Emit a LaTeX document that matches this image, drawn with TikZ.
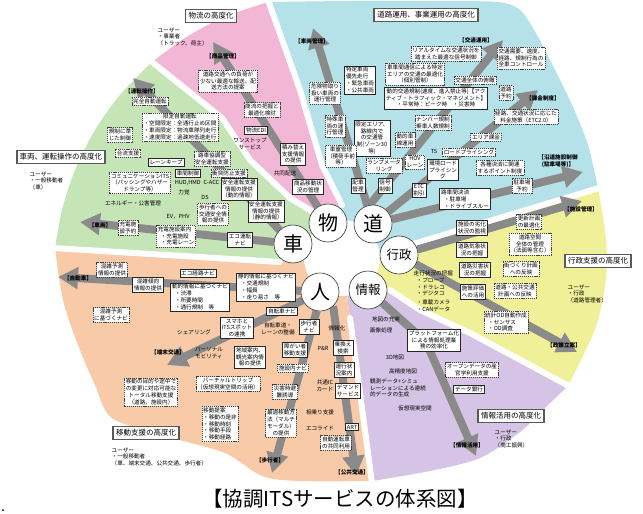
\documentclass[tikz,border=0pt]{standalone}
\usepackage{fontspec}
\newfontfamily\jp{Noto Sans CJK JP}
\usetikzlibrary{arrows.meta}
\pgfdeclarelayer{bg}
\pgfdeclarelayer{bands}
\pgfsetlayers{bg,bands,main}
\definecolor{cgreen}{RGB}{197,229,183}
\definecolor{cpink}{RGB}{243,183,214}
\definecolor{ccyan}{RGB}{181,225,232}
\definecolor{cyellow}{RGB}{240,240,152}
\definecolor{cpurple}{RGB}{214,196,230}
\definecolor{corange}{RGB}{249,202,168}
\definecolor{agray}{RGB}{138,138,138}
\tikzset{
  bx/.style={font=\jp\fontsize{5.6}{6.8}\selectfont, inner sep=1.4pt, align=center},
  sbox/.style={bx, draw=black!85, line width=0.5pt, fill=white},
  dbox/.style={bx, draw=black!75, line width=0.5pt, dash pattern=on 1.2pt off 0.9pt, fill=white},
  txt/.style={bx, inner sep=0.5pt},
  ttl/.style={font=\jp\fontsize{7.5}{9}\selectfont, draw=black!65, line width=1.6pt, fill=white, inner sep=3pt},
  lab/.style={font=\jp\bfseries\fontsize{5.6}{6.8}\selectfont, inner sep=0.5pt, align=center},
  hub/.style={circle, draw=black!80, line width=0.6pt, fill=white, minimum size=38pt, inner sep=0pt, font=\jp\fontsize{20}{20}\selectfont},
  hubs/.style={hub, font=\jp\fontsize{12.5}{13}\selectfont},
  band/.style={draw=agray, line width=8pt, -{Triangle[length=20pt,width=21pt]}},
  gap/.style={draw=white, line width=6pt, line cap=round, line join=round},
}
\begin{document}
\begin{tikzpicture}[x=1pt,y=-1pt]
\useasboundingbox (0,0) rectangle (643,514);
\begin{pgfonlayer}{bg}
\fill[white] (0,0) rectangle (643,514);
% sectors
\fill[cgreen] (342,258) -- (318,215) -- (290,198) -- (250,160) -- (222,118) -- plot[smooth] coordinates {(152,62) (120,95) (95,130) (75,170) (62,210) (55,248)} -- (280,262) -- cycle;
\fill[cpink] (342,258) -- (342,205) -- (322,165) -- (300,90) -- plot[smooth] coordinates {(268,2) (222,18) (185,38) (152,62)} -- (222,118) -- (250,160) -- (290,198) -- (318,215) -- cycle;
\fill[ccyan] (342,258) -- (395,250) -- (420,242) -- plot[smooth] coordinates {(598,188) (588,145) (573,107) (555,70) (537,35) (520,10) (497,2) (430,1) (350,1) (270,2)} -- (300,90) -- (322,165) -- (342,205) -- cycle;
\fill[cyellow] (342,258) -- (390,290) -- (420,310) -- (470,333) -- plot[smooth] coordinates {(568,386) (594,332) (603,298) (607,265) (605,230) (598,188)} -- (420,242) -- (395,250) -- cycle;
\fill[cpurple] (342,258) -- (350,318) -- plot[smooth] coordinates {(372,481) (430,471) (480,458) (520,432) (545,408) (568,386)} -- (470,333) -- (420,310) -- (390,290) -- cycle;
\fill[corange] (342,258) -- (280,262) -- plot[smooth] coordinates {(55,248) (63,300) (78,345) (95,385) (112,418) (165,436) (225,453) (262,476) (300,481) (372,481)} -- (350,318) -- cycle;
% white gaps
\draw[gap] (152,62) -- (222,118) -- (250,160) -- (290,198) -- (318,215);
\draw[gap] (268,0) -- (300,90) -- (322,165) -- (342,205);
\draw[gap] (599,188) -- (420,242) -- (395,250);
\draw[gap] (569,386) -- (470,333) -- (420,310) -- (390,290);
\draw[gap] (372,483) -- (350,318);
\draw[gap] (53,248) -- (280,262);
\fill[white] (342,258) circle (38pt);
\fill[black] (3,510) circle (1pt);
\end{pgfonlayer}

% hubs
\node[hub] (butsu) at (328,223) {物};
\node[hub] (michi) at (373,224) {道};
\node[hub] (kuruma) at (293,244) {車};
\node[hubs] (gyosei) at (399,255) {行政};
\node[hub] (hito) at (320,292) {人};
\node[hubs] (joho) at (368,290) {情報};

% arrow tips
\coordinate (aUnten) at (133,78);
\coordinate (aSharyo) at (80,222);
\coordinate (aShohin) at (213,42);
\coordinate (aSKanri) at (313,28);
\coordinate (aKotsu) at (503,40);
\coordinate (aKakin) at (538,90);
\coordinate (aEndo) at (583,172);
\coordinate (aShisetsu) at (582,201);
\coordinate (aSeisaku) at (577,352);
\coordinate (aBend) at (426,342);
\coordinate (aJoho) at (476,456);
\coordinate (aJidosha) at (58,277);
\coordinate (aTanmatsu) at (167,365);
\coordinate (aHoko) at (272,473);
\coordinate (aKokyo) at (356,476);

\begin{pgfonlayer}{bands}
\draw[band] (kuruma) -- (aUnten);
\draw[band] (kuruma) -- (aSharyo);
\draw[band] (butsu) -- (aShohin);
\draw[band] (michi) -- (aSKanri);
\draw[band] (michi.100) -- (aKotsu);
\draw[band] (michi) -- (aKakin);
\draw[band] (michi) -- (aEndo);
\draw[band] (gyosei) -- (aShisetsu);
\draw[band] (gyosei) -- (aSeisaku);
\draw[band, rounded corners=12pt] (joho) -- (aBend) -- (aJoho);
\draw[band] (hito) -- (aJidosha);
\draw[band] (hito) -- (aTanmatsu);
\draw[band] (hito.-100) -- (aHoko);
\draw[band] (hito.-47) -- (aKokyo);
\end{pgfonlayer}

% titles
\node[ttl] (t1) at (211,16) {物流の高度化};
\node[ttl] (t2) at (426,15) {道路運用、事業運用の高度化};
\node[ttl] (t3) at (61,157) {車両、運転操作の高度化};
\node[ttl] (t4) at (598,261) {行政支援の高度化};
\node[ttl] (t5) at (511,416) {情報活用の高度化};
\node[ttl] (t6) at (146,433) {移動支援の高度化};

% users
\node[txt, align=left, anchor=north west] (ua) at (157,27) {ユーザー\\・事業者\\（トラック、荷主）};
\node[txt, align=left, anchor=north west] (ub) at (29,171) {ユーザー\\・一般移動者\\（車）};
\node[txt, align=left, anchor=north west] (uc) at (567,284) {ユーザー\\・行政\\（道路管理者）};
\node[txt, align=left, anchor=north west] (ud) at (494,429) {ユーザー\\・行政\\（商工振興）};
\node[txt, align=left, anchor=north west] (ue) at (111,447) {ユーザー\\・一般移動者\\（車、端末交通、公共交通、歩行者）};

% arrow labels
\node[lab] (lUnten) at (142,91) {【運転操作】};
\node[lab] (lSharyo) at (100,225) {【車両】};
\node[lab] (lShohin) at (223,56) {【商品管理】};
\node[lab] (lSKanri) at (312,41) {【車両管理】};
\node[lab] (lKotsu) at (476,40) {【交通運用】};
\node[lab] (lKakin) at (543,98) {【課金制度】};
\node[lab] (lEndo) at (558,161) {【沿道施設制御\\(駐車場等)】};
\node[lab] (lShisetsu) at (581,209) {【施設管理】};
\node[lab] (lSeisaku) at (564,345) {【政策立案】};
\node[lab] (lJoho) at (467,445) {【情報活用】};
\node[lab] (lJidosha) at (78,278) {【自動車】};
\node[lab] (lTanmatsu) at (168,352) {【端末交通】};
\node[lab] (lHoko) at (270,460) {【歩行者】};
\node[lab] (lKokyo) at (352,472) {【公共交通】};

% green
\node[dbox] (g1) at (150,101) {完全自動運転};
\node[dbox] (g2) at (180,127) {限定自動運転\\・空間限定：全通行止め区間\\・車両限定：物流車隊列走行\\・速度限定：過疎地低速走行};
\node[dbox] (g3) at (120,135) {規制に準\\じた制御};
\node[dbox] (g4) at (128,153) {合流支援};
\node[sbox] (g5) at (166,162) {レーンキープ};
\node[dbox] (g6) at (212,159) {路車協調型\\安全運転支援};
\node[sbox] (g7) at (188,173) {車間制御};
\node[dbox] (g8) at (229,173) {衝突防止支援};
\node[dbox] (g9) at (140,183) {コミュニケーションITS\\（パッシングやハザー\\ドランプ等）};
\node[txt] (g10) at (197,183) {HUD,HMD\enspace C-ACC};
\node[sbox] (g11) at (239,189) {安全運転支援\\情報の提供\\（動的情報）};
\node[txt] (g12) at (184,192) {力覚};
\node[txt] (g13) at (205,197) {DS};
\node[txt] (g14) at (133,203) {エネルギー・公害管理};
\node[dbox] (g15) at (213,214) {歩行者への\\交通安全情\\報の提供};
\node[sbox] (g16) at (266,211) {安全運転支援\\情報の提供\\（静的情報）};
\node[txt] (g17) at (178,217) {EV，PHV};
\node[dbox] (g18) at (128,228) {充電施\\設予約};
\node[dbox, align=left] (g19) at (176,236) {充電施設案内\\\hspace{3pt}・充電施設\\\hspace{3pt}・充電レーン};
\node[sbox] (g20) at (240,240) {エコ運転\\ナビ};

% pink
\node[dbox] (p1) at (228,81) {道路交通への負荷が\\少ない最適な輸送、配\\送方法の提案};
\node[dbox] (p2) at (262,110) {商流の把握と\\最適化検討};
\node[sbox] (p3) at (256,130) {物流EDI};
\node[txt] (p4) at (250,144) {ワンストップ\\サービス};
\node[sbox] (p5) at (293,154) {積み替え\\支援情報\\の提供};
\node[txt] (p6) at (285,173) {共同配送};
\node[sbox] (p7) at (308,187) {商品移動状\\況の管理};

% cyan
\node[dbox] (c1) at (325,93) {危険物取り\\扱い車両の\\運行管理};
\node[sbox, align=left] (c2) at (360,80) {特定車両\\優先走行\\・緊急車両\\・公共車両};
\node[dbox] (c3) at (415,74) {車車間通信による特定\\エリアの交通の最適化\\（個別管制）};
\node[dbox] (c4) at (446,54) {リアルタイムな交通状況を\\踏まえた最適な信号制御};
\node[dbox] (c5) at (475,80) {交通全体の俯瞰};
\node[dbox] (c6) at (521,58) {交通需要、速度、\\経路、規制行為の\\全車コントロール};
\node[sbox] (c7) at (436,98) {動的交通規制(速度、進入禁止等)【アク\\ティブ・トラフィック・マネジメント】\\・平常時：ピーク時　・災害時};
\node[dbox] (c8) at (506,93) {道路\\予約};
\node[dbox] (c9) at (526,117) {経路、交通状況に応じた\\料金施策（ETC2.0）};
\node[dbox] (c10) at (335,126) {特殊車\\両の運\\行管理};
\node[sbox] (c11) at (372,138) {限定エリア、\\路線内で\\の交通管\\制(ゾーン30\\等)};
\node[dbox] (c12) at (433,123) {ナンバー規制\\乗車人数規制};
\node[dbox] (c13) at (405,140) {動的車\\線運用};
\node[dbox] (c14) at (486,137) {エリア課金};
\node[txt] (c15) at (434,151) {TS};
\node[dbox] (c16) at (469,152) {ロードプライシング};
\node[dbox] (c17) at (341,156) {車重管理\\（積荷手前\\等）};
\node[dbox] (c18) at (384,166) {ランプメータ\\リング};
\node[dbox] (c19) at (415,162) {HOV\\レーン};
\node[sbox] (c20) at (443,170) {環境ロード\\プライシン\\グ};
\node[dbox] (c21) at (500,168) {各種決済に関連\\するポイント制度};
\node[sbox] (c22) at (358,186) {配車\\管理};
\node[sbox] (c23) at (385,186) {信号\\制御};
\node[sbox] (c24) at (419,190) {ETC\\割引};
\node[sbox, align=left] (c25) at (465,199) {路車間決済\\\hspace{3pt}・駐車場\\\hspace{3pt}・ドライブスルー};
\node[dbox] (c26) at (522,186) {駐車場\\予約};

% yellow
\node[dbox] (y1) at (529,222) {更新計画\\の最適化};
\node[sbox] (y2) at (472,228) {施設の劣化\\状況の監視};
\node[dbox] (y3) at (530,244) {道路空間\\全体の管理\\（法面等含む）};
\node[sbox] (y4) at (472,250) {道路気象状\\況の把握};
\node[dbox] (y5) at (521,269) {街づくり計画\\への反映};
\node[sbox] (y6) at (475,270) {道路災害状\\況の把握};
\node[txt, align=left, anchor=north west] (y7) at (413,270) {走行状況の把握\\\hspace{3pt}・プローブ\\\hspace{3pt}・ドラレコ\\\hspace{3pt}・デジタコ\\[2pt]\hspace{3pt}・車載カメラ\\\hspace{3pt}・CANデータ};
\node[sbox] (y8) at (473,292) {施策評価\\への活用};
\node[dbox] (y9) at (515,291) {道路・公共交通\\計画への反映};
\node[dbox, align=left] (y10) at (506,322) {統計OD自動作成\\\hspace{3pt}・センサス\\\hspace{3pt}・OD調査};

% purple
\node[txt] (u1) at (386,319) {地図の充実};
\node[txt] (u2) at (381,330) {画像処理};
\node[sbox] (u3) at (434,340) {プラットフォーム化\\による情報処理業\\務の効率化};
\node[dbox] (u4) at (472,370) {オープンデータの産\\官学利用支援};
\node[txt] (u5) at (395,357) {3D地図};
\node[txt] (u6) at (403,371) {高精度地図};
\node[sbox] (u7) at (469,389) {データ銀行};
\node[txt, align=left] (u8) at (398,388) {観測データ+シミュ\\レーションによる連続\\的データの生成};
\node[txt] (u9) at (415,408) {仮想現実空間};

% orange
\node[dbox] (o1) at (112,270) {混雑予測\\情報の提供};
\node[sbox] (o2) at (148,285) {混雑傾向\\情報の提供};
\node[sbox] (o3) at (198,273) {エコ経路ナビ};
\node[sbox, align=left] (o4) at (200,297) {動的情報に基づくナビ\\\hspace{3pt}・渋滞\\\hspace{3pt}・所要時間\\\hspace{3pt}・通行規制　等};
\node[sbox, align=left] (o5) at (266,287) {静的情報に基づくナビ\\\hspace{3pt}・交通規制\\\hspace{3pt}・幅員\\\hspace{3pt}・走り易さ　等};
\node[dbox] (o6) at (111,315) {混雑予測\\に基づくナビ};
\node[sbox] (o7) at (282,311) {自転車ナビ};
\node[sbox] (o8) at (237,328) {スマホと\\ITSスポット\\の連携};
\node[txt] (o9) at (278,329) {自転車道・\\レーンの整備};
\node[sbox] (o10) at (309,327) {歩行者\\ナビ};
\node[txt] (o11) at (337,328) {情報化};
\node[txt] (o12) at (194,332) {シェアリング};
\node[txt] (o13) at (209,353) {パーソナル\\モビリティ};
\node[sbox] (o14) at (250,357) {地域案内、\\観光案内情\\報の提供};
\node[sbox] (o15) at (295,350) {障がい者\\移動支援};
\node[txt] (o16) at (323,348) {P\&R};
\node[sbox] (o17) at (343,348) {乗換え\\検索};
\node[dbox] (o18) at (293,368) {施設内ナビ};
\node[sbox] (o19) at (344,370) {運行状\\況案内};
\node[dbox] (o20) at (228,384) {バーチャルトリップ\\（仮想現実空間の活用）};
\node[txt] (o21) at (325,386) {共通IC\\カード};
\node[sbox] (o22) at (348,391) {デマンド\\サービス};
\node[dbox] (o23) at (285,392) {災害時避\\難誘導};
\node[dbox] (o24) at (151,392) {移動の目的や途中で\\の変更に対応可能な\\トータル移動支援\\（道路、施設内）};
\node[dbox, align=left] (o25) at (220,424) {移動提案\\・移動の是非\\・移動時刻\\・移動手段\\・移動経路};
\node[dbox] (o26) at (281,423) {最適移動方\\法（マルチ\\モーダル）\\の提供};
\node[txt] (o27) at (320,412) {相乗り支援};
\node[sbox] (o28) at (352,427) {ART};
\node[txt] (o29) at (320,428) {エコライド};
\node[dbox] (o30) at (336,443) {自動運転車\\の共同利用};

% caption
\node[font=\jp\fontsize{20.5}{22}\selectfont, inner sep=0pt] (cap) at (340,499) {【協調ITSサービスの体系図】};
\end{tikzpicture}
\end{document}
